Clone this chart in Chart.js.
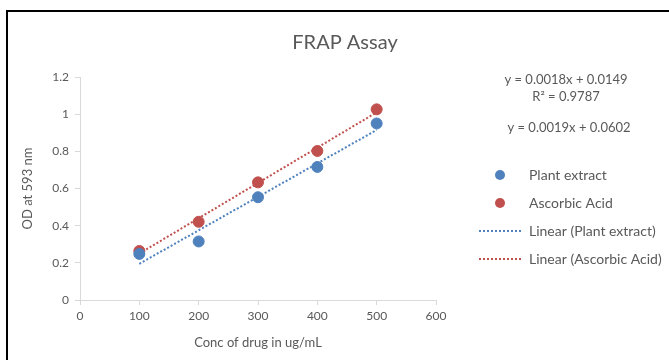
<!DOCTYPE html>
<html>
<head>
<meta charset="utf-8">
<script src="https://cdn.jsdelivr.net/npm/chart.js@4.4.1/dist/chart.umd.min.js"></script>
<style>
  html, body { margin: 0; padding: 0; background: #fff; overflow: hidden; }
  #wrap { position: relative; width: 669px; height: 360px; }
  #frame { position: absolute; left: 6px; top: 10px; width: 700px; height: 400px;
           border: 2px solid #000; box-sizing: border-box; pointer-events: none; }
  canvas { position: absolute; left: 0; top: 0; }
</style>
</head>
<body>
<div id="wrap">
  <canvas id="frapChart" width="669" height="360"></canvas>
  <div id="frame"></div>
</div>
<script>
// data
var concentrations = [100, 200, 300, 400, 500];
var plantExtract = [0.248, 0.315, 0.553, 0.716, 0.950];
var ascorbicAcid = [0.264, 0.421, 0.633, 0.802, 1.026];
var trendX = [100, 500];
var plantTrend = [0.195, 0.915];
var ascorbicTrend = [0.250, 1.010];
var yTickLabels = ["0", "0.2", "0.4", "0.6", "0.8", "1", "1.2"];
var xTickLabels = ["0", "100", "200", "300", "400", "500", "600"];
var equations = ["y = 0.0018x + 0.0149", "R² = 0.9787", "y = 0.0019x + 0.0602"];

var BLUE = "#4F81BD", RED = "#C0504D", GREY = "#595959";
var FONT = "Lato, 'Open Sans', sans-serif";

function pts(xs, ys) {
    return xs.map(function (x, i) { return { x: x, y: ys[i] }; });
}

// draws title, trendline equations and the legend on the right
var sidePlugin = {
    id: "side",
    afterDraw: function (chart) {
        var ctx = chart.ctx;
        ctx.save();
        ctx.fillStyle = GREY;
        ctx.textBaseline = "middle";
        ctx.textAlign = "center";
        ctx.font = "20px " + FONT;
        ctx.fillText("FRAP Assay", 345, 43);

        ctx.font = "13px " + FONT;
        ctx.fillText(equations[0], 566, 80);
        ctx.fillText(equations[1], 566, 97);
        ctx.fillText(equations[2], 569, 128);

        var items = [
            { label: "Plant extract", color: BLUE, dot: true, y: 175 },
            { label: "Ascorbic Acid", color: RED, dot: true, y: 203 },
            { label: "Linear (Plant extract)", color: BLUE, dot: false, y: 231 },
            { label: "Linear (Ascorbic Acid)", color: RED, dot: false, y: 259 }
        ];
        ctx.textAlign = "left";
        ctx.font = "14px " + FONT;
        items.forEach(function (it) {
            if (it.dot) {
                ctx.fillStyle = it.color;
                ctx.beginPath();
                ctx.arc(500, it.y, 5, 0, Math.PI * 2);
                ctx.fill();
            } else {
                ctx.strokeStyle = it.color;
                ctx.lineWidth = 2;
                ctx.setLineDash([2, 2]);
                ctx.beginPath();
                ctx.moveTo(479, it.y);
                ctx.lineTo(521, it.y);
                ctx.stroke();
                ctx.setLineDash([]);
            }
            ctx.fillStyle = GREY;
            ctx.fillText(it.label, 529, it.y);
        });
        ctx.restore();
    }
};

var chart = new Chart(document.getElementById("frapChart"), {
    type: "scatter",
    data: {
        datasets: [
            {
                label: "Plant extract",
                data: pts(concentrations, plantExtract),
                backgroundColor: BLUE,
                borderColor: BLUE,
                pointRadius: 5.5,
                order: 1
            },
            {
                label: "Ascorbic Acid",
                data: pts(concentrations, ascorbicAcid),
                backgroundColor: RED,
                borderColor: RED,
                pointRadius: 5.5,
                order: 1
            },
            {
                label: "Linear (Plant extract)",
                type: "line",
                data: pts(trendX, plantTrend),
                borderColor: BLUE,
                borderWidth: 2,
                borderDash: [2, 2],
                pointRadius: 0,
                fill: false,
                order: 2
            },
            {
                label: "Linear (Ascorbic Acid)",
                type: "line",
                data: pts(trendX, ascorbicTrend),
                borderColor: RED,
                borderWidth: 2,
                borderDash: [2, 2],
                pointRadius: 0,
                fill: false,
                order: 2
            }
        ]
    },
    options: {
        responsive: false,
        animation: false,
        layout: { padding: { left: 20, right: 233, top: 77, bottom: 5 } },
        plugins: {
            legend: { display: false },
            tooltip: { enabled: false },
            title: { display: false }
        },
        scales: {
            x: {
                type: "linear",
                min: 0, max: 600,
                afterFit: function (s) { s.height = 55; },
                grid: { drawOnChartArea: false, color: "#D9D9D9", tickLength: 5, tickColor: "#D9D9D9" },
                border: { color: "#D9D9D9" },
                ticks: {
                    stepSize: 100,
                    color: GREY,
                    font: { family: FONT, size: 12 },
                    padding: 4,
                    callback: function (v, i) { return xTickLabels[i]; }
                },
                title: {
                    display: true,
                    text: "Conc of drug in ug/mL",
                    color: GREY,
                    font: { family: FONT, size: 13 },
                    padding: { top: 2, bottom: 4 }
                }
            },
            y: {
                min: 0, max: 1.2,
                afterFit: function (s) { s.width = 60; },
                grid: { drawOnChartArea: false, color: "#D9D9D9", tickLength: 5, tickColor: "#D9D9D9" },
                border: { color: "#D9D9D9" },
                ticks: {
                    stepSize: 0.2,
                    color: GREY,
                    font: { family: FONT, size: 12 },
                    padding: 6,
                    callback: function (v, i) { return yTickLabels[i]; }
                },
                title: {
                    display: true,
                    text: "OD at 593 nm",
                    color: GREY,
                    font: { family: FONT, size: 13 },
                    padding: { top: 0, bottom: 0 }
                }
            }
        }
    },
    plugins: [sidePlugin]
});
</script>
</body>
</html>
